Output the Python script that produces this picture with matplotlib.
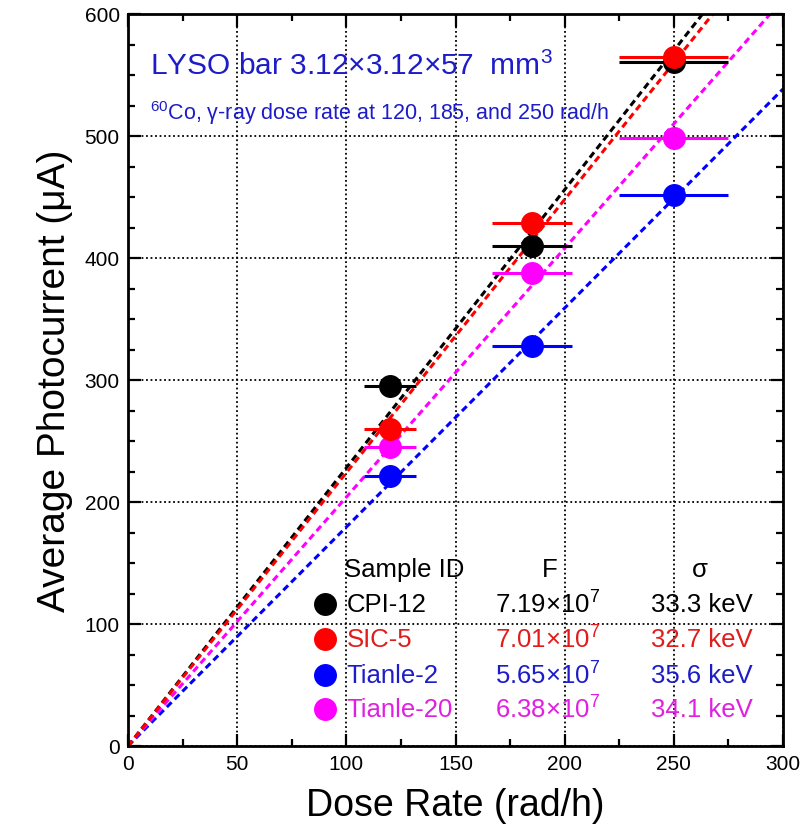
import matplotlib
matplotlib.use("Agg")
import matplotlib.pyplot as plt
import numpy as np

plt.rcParams['font.family'] = ['Liberation Sans', 'DejaVu Sans']
plt.rcParams['mathtext.fontset'] = 'custom'
plt.rcParams['mathtext.rm'] = 'Liberation Sans'
plt.rcParams['mathtext.it'] = 'Liberation Sans:italic'

# Data
dose = [120, 185, 250]
dose_err = [12, 18.5, 25]
samples = ["CPI-12", "SIC-5", "Tianle-2", "Tianle-20"]
current = {
    "CPI-12":    [295, 410, 561],
    "SIC-5":     [260, 429, 565],
    "Tianle-2":  [221, 328, 452],
    "Tianle-20": [245, 388, 498],
}
slopes = {"CPI-12": 2.28, "SIC-5": 2.24, "Tianle-2": 1.795, "Tianle-20": 2.04}
F_mant = ["7.19", "7.01", "5.65", "6.38"]
sigma = ["33.3 keV", "32.7 keV", "35.6 keV", "34.1 keV"]

colors = {"CPI-12": "#000000", "SIC-5": "#ff0000", "Tianle-2": "#0000ff", "Tianle-20": "#ff00ff"}
text_colors = {"CPI-12": "#000000", "SIC-5": "#e01c1c", "Tianle-2": "#1c1cc8", "Tianle-20": "#e020e0"}
draw_order = ["Tianle-2", "Tianle-20", "CPI-12", "SIC-5"]

fig = plt.figure(figsize=(8.11, 8.28), dpi=100)
ax = fig.add_axes([128/811, 81/828, 655/811, 732/828])

xline = np.array([0, 300])
for s in draw_order:
    ax.plot(xline, slopes[s] * xline, linestyle=(0, (2.2, 1.4)), color=colors[s], lw=2.2, zorder=2)
for s in draw_order:
    ax.errorbar(dose, current[s], xerr=dose_err, fmt='o', color=colors[s], ms=15.5,
                elinewidth=2.2, capsize=0, zorder=3)

ax.set_xlim(0, 300)
ax.set_ylim(0, 600)
ax.set_xticks(np.arange(0, 301, 50))
ax.set_yticks(np.arange(0, 601, 100))
ax.set_xticks(np.arange(0, 301, 25), minor=True)
ax.set_yticks(np.arange(0, 601, 25), minor=True)
ax.tick_params(which='both', direction='in', top=True, right=True, width=1.6)
ax.tick_params(which='major', length=9, labelsize=15, pad=6)
ax.tick_params(which='minor', length=5)
for sp in ax.spines.values():
    sp.set_linewidth(2)
ax.grid(True, which='major', linestyle=(0, (1, 1.5)), color='black', lw=1.3)

ax.set_xlabel("Dose Rate (rad/h)", fontsize=27, labelpad=10)
ax.set_ylabel("Average Photocurrent (μA)", fontsize=28, labelpad=8)

title_col = "#1c1cc8"
ax.text(10, 558, r"LYSO bar 3.12$\times$3.12$\times$57  mm$^3$", fontsize=21.5, color=title_col, va='center')
ax.text(10, 520, r"$^{60}$Co, γ-ray dose rate at 120, 185, and 250 rad/h", fontsize=15.5, color=title_col, va='center')

# Legend table
fs = 18.5
ax.text(99, 145, "Sample ID", fontsize=fs, va='center', ha='left')
ax.text(193, 145, "F", fontsize=fs, va='center', ha='center')
ax.text(262, 145, "σ", fontsize=fs, va='center', ha='center')
row_y = [116, 88, 58, 30]
for s, y, fm, sg in zip(samples, row_y, F_mant, sigma):
    ax.plot([90], [y], 'o', color=colors[s], ms=15.5, zorder=4)
    ax.text(100, y, s, fontsize=fs, va='center', ha='left', color=text_colors[s])
    ax.text(192, y, fm + r"$\times$10$^7$", fontsize=fs, va='center', ha='center', color=text_colors[s])
    ax.text(263, y, sg, fontsize=fs, va='center', ha='center', color=text_colors[s])

fig.savefig("out.png", dpi=100)
